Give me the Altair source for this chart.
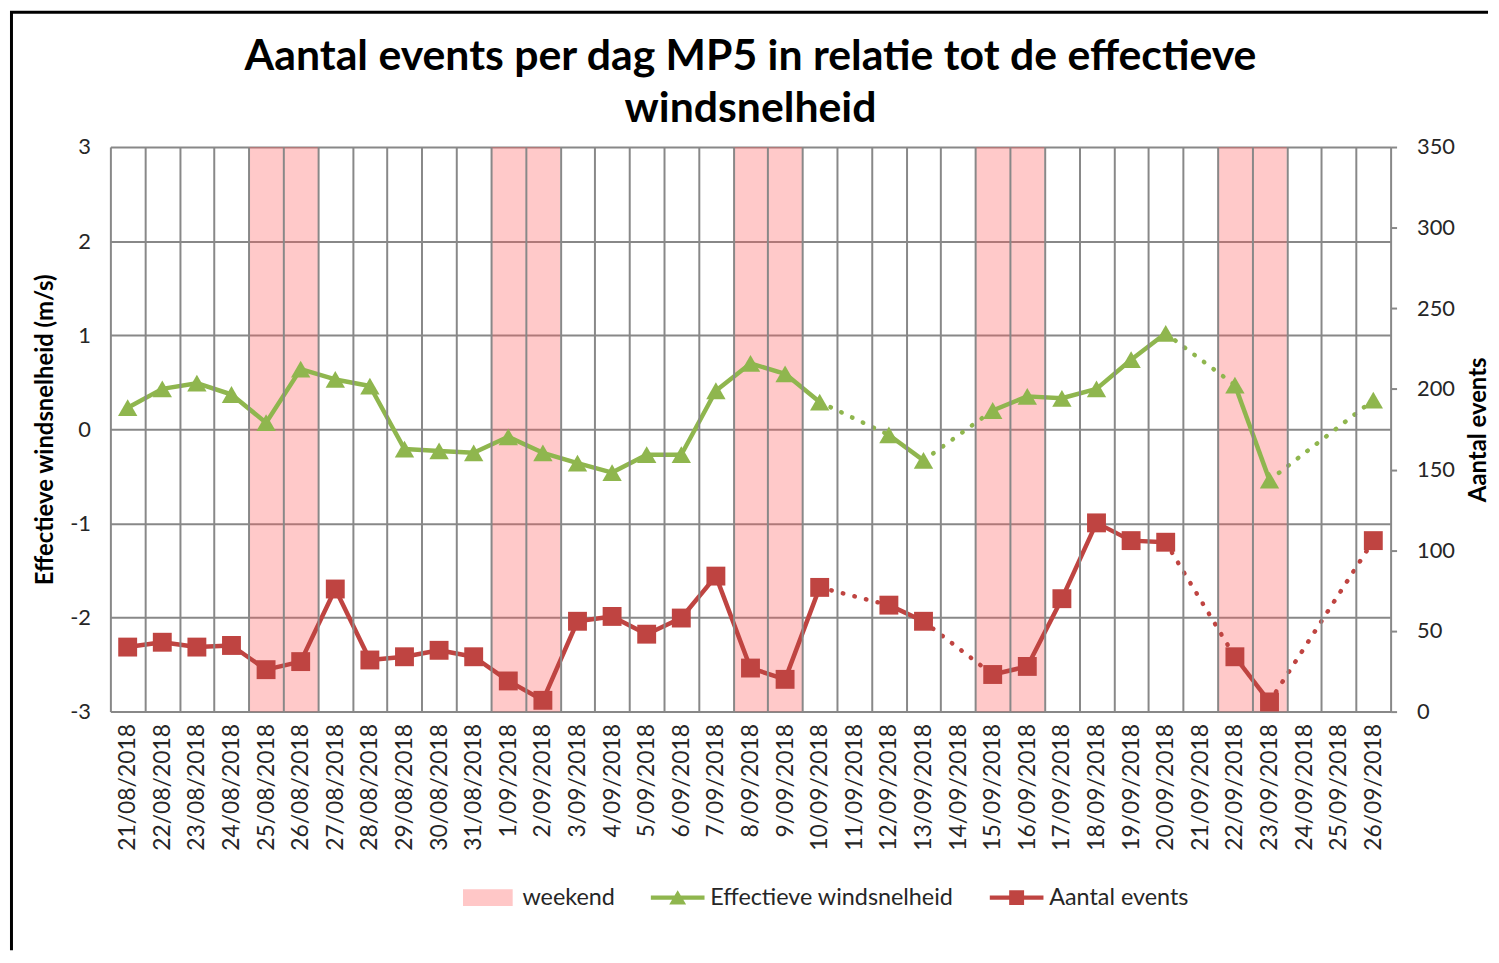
import altair as alt
import pandas as pd

# ---------------- data ----------------
days = [
    "21/08/2018", "22/08/2018", "23/08/2018", "24/08/2018", "25/08/2018",
    "26/08/2018", "27/08/2018", "28/08/2018", "29/08/2018", "30/08/2018",
    "31/08/2018", "1/09/2018", "2/09/2018", "3/09/2018", "4/09/2018",
    "5/09/2018", "6/09/2018", "7/09/2018", "8/09/2018", "9/09/2018",
    "10/09/2018", "11/09/2018", "12/09/2018", "13/09/2018", "14/09/2018",
    "15/09/2018", "16/09/2018", "17/09/2018", "18/09/2018", "19/09/2018",
    "20/09/2018", "21/09/2018", "22/09/2018", "23/09/2018", "24/09/2018",
    "25/09/2018", "26/09/2018",
]
weekend_days = [
    "25/08/2018", "26/08/2018", "1/09/2018", "2/09/2018", "8/09/2018",
    "9/09/2018", "15/09/2018", "16/09/2018", "22/09/2018", "23/09/2018",
]
wind = [
    0.23, 0.43, 0.49, 0.37, 0.07, 0.64, 0.53, 0.46, -0.21, -0.23,
    -0.25, -0.08, -0.25, -0.36, -0.46, -0.27, -0.27, 0.41, 0.70, 0.59,
    0.29, None, -0.06, -0.33, None, 0.20, 0.35, 0.33, 0.43, 0.74,
    1.02, None, 0.47, -0.54, None, None, 0.31,
]
events = [
    40, 43, 40, 41, 26, 31, 76, 32, 34, 38,
    34, 19, 7, 56, 59, 48, 58, 84, 27, 20,
    77, None, 66, 56, None, 23, 28, 70, 117, 106,
    105, None, 34, 6, None, None, 106,
]
series_names = ["weekend", "Effectieve windsnelheid", "Aantal events"]

# ---------------- styling ----------------
FONT = "Lato"
GREEN = "#8FB64E"
RED = "#BF4441"
PINK = "#FFC7C7"
GRID = "#888888"
TEXT = "#262626"
W, H = 1288, 568


def build_segments(values, field):
    """Split a series with gaps into solid runs and dotted bridges."""
    idx = [i for i, v in enumerate(values) if v is not None]
    runs, cur = [], [idx[0]]
    for a, b in zip(idx, idx[1:]):
        if b - a == 1:
            cur.append(b)
        else:
            runs.append(cur)
            cur = [b]
    runs.append(cur)
    solid, dotted = [], []
    for k, run in enumerate(runs):
        if len(run) > 1:
            for i in run:
                solid.append({"day": days[i], field: values[i], "seg": f"s{k}"})
        if k + 1 < len(runs):
            a, b = run[-1], runs[k + 1][0]
            for i in (a, b):
                dotted.append({"day": days[i], field: values[i], "seg": f"d{k}"})
    pts = [{"day": days[i], field: values[i]} for i in idx]
    return pd.DataFrame(solid), pd.DataFrame(dotted), pd.DataFrame(pts)


g_solid, g_dot, g_pts = build_segments(wind, "wind")
r_solid, r_dot, r_pts = build_segments(events, "events")
weekend_df = pd.DataFrame({"day": weekend_days})
legend_df = pd.DataFrame({"series": series_names})
frame_df = pd.DataFrame({"k": [0]})


def x_enc():
    return alt.X(
        "day:N",
        sort=days,
        scale=alt.Scale(domain=days, paddingInner=0, paddingOuter=0),
        axis=alt.Axis(
            title=None,
            labelAngle=270,
            labelFont=FONT,
            labelFontSize=23,
            labelColor=TEXT,
            labelPadding=12,
            ticks=False,
            domain=False,
            grid=True,
            tickBand="extent",
            gridColor=GRID,
            gridWidth=2,
        ),
    )


# weekend shading (semi transparent so the grid shows through)
weekend = alt.Chart(weekend_df).mark_rect(color="#FF5A5A", opacity=0.33).encode(
    x=x_enc(), y=alt.value(0), y2=alt.value(H)
)

y_wind = alt.Y(
    "wind:Q",
    scale=alt.Scale(domain=[-3, 3]),
    axis=alt.Axis(
        orient="left",
        values=[-3, -2, -1, 0, 1, 2, 3],
        labelExpr="'' + datum.value",
        title="Effectieve windsnelheid (m/s)",
        titleFont=FONT,
        titleFontSize=24,
        titleFontWeight="bold",
        titleColor="#000000",
        titlePadding=12,
        labelFont=FONT,
        labelFontSize=22,
        labelColor=TEXT,
        labelPadding=20,
        ticks=False,
        domain=False,
        grid=True,
        gridColor=GRID,
        gridWidth=2,
    ),
)
y_events = alt.Y(
    "events:Q",
    scale=alt.Scale(domain=[0, 350]),
    axis=alt.Axis(
        orient="right",
        values=[0, 50, 100, 150, 200, 250, 300, 350],
        title="Aantal events",
        titleAngle=270,
        titleBaseline="top",
        titleFont=FONT,
        titleFontSize=24,
        titleFontWeight="bold",
        titleColor="#000000",
        titlePadding=12,
        labelFont=FONT,
        labelFontSize=22,
        labelColor=TEXT,
        labelPadding=20,
        ticks=True,
        tickSize=6,
        tickColor=GRID,
        tickWidth=2,
        domain=False,
        grid=False,
    ),
)

green = alt.layer(
    alt.Chart(g_solid).mark_line(color=GREEN, strokeWidth=4.5, strokeJoin="round")
    .encode(x=x_enc(), y=y_wind, detail="seg:N"),
    alt.Chart(g_dot).mark_line(color=GREEN, strokeWidth=4.5, strokeCap="round", strokeDash=[0.5, 11.5])
    .encode(x=x_enc(), y=y_wind, detail="seg:N"),
    alt.Chart(g_pts).mark_point(shape="triangle-up", filled=True, size=380, color=GREEN, opacity=1)
    .encode(x=x_enc(), y=y_wind),
)

red = alt.layer(
    alt.Chart(r_solid).mark_line(color=RED, strokeWidth=4.5, strokeJoin="round")
    .encode(x=x_enc(), y=y_events, detail="seg:N"),
    alt.Chart(r_dot).mark_line(color=RED, strokeWidth=4.5, strokeCap="round", strokeDash=[0.5, 11.5])
    .encode(x=x_enc(), y=y_events, detail="seg:N"),
    alt.Chart(r_pts).mark_point(shape="square", filled=True, size=361, color=RED, opacity=1)
    .encode(x=x_enc(), y=y_events),
)

# legend symbols (unit = 10 px, symbols start at x = -1)
sym_rect = "M-1,-0.85H4V0.85H-1Z"
sym_tri = "M-1,-0.22H4.4V0.22H-1Z M1.7,-0.75L2.55,0.7L0.85,0.7Z"
sym_sq = "M-1,-0.22H4.4V0.22H-1Z M0.95,-0.75H2.45V0.75H0.95Z"

leg = alt.Legend(
    title=None,
    orient="none",
    legendX=353,
    legendY=743,
    direction="horizontal",
    symbolSize=400,
    symbolStrokeWidth=0,
    labelFont=FONT,
    labelFontSize=23.5,
    labelColor=TEXT,
    labelLimit=500,
    labelOffset=38,
    columnPadding=34,
)
legend_layer = alt.Chart(legend_df).mark_point(filled=True, opacity=1, clip=True).encode(
    x=alt.value(-300),
    y=alt.value(-300),
    color=alt.Color("series:N", scale=alt.Scale(domain=series_names, range=[PINK, GREEN, RED]), legend=leg),
    shape=alt.Shape("series:N", scale=alt.Scale(domain=series_names, range=[sym_rect, sym_tri, sym_sq]), legend=leg),
)

# outer chart frame (left and top edges, as in the exported chart picture)
frame_left = alt.Chart(frame_df).mark_rule(color="#000000", strokeWidth=3).encode(
    x=alt.value(-99.5), y=alt.value(-135.5), y2=alt.value(808)
)
frame_top = alt.Chart(frame_df).mark_rule(color="#000000", strokeWidth=3).encode(
    x=alt.value(-101), x2=alt.value(W + 98), y=alt.value(-135.5)
)

chart = (
    alt.layer(weekend, green, red, legend_layer, frame_left, frame_top)
    .resolve_scale(y="independent")
    .properties(
        width=W,
        height=H,
        title=alt.TitleParams(
            text=["Aantal events per dag MP5 in relatie tot de effectieve", "windsnelheid"],
            font=FONT,
            fontSize=43,
            fontWeight="bold",
            color="#000000",
            anchor="middle",
            lineHeight=53,
            offset=3,
            dy=124,
        ),
        padding={"left": 0, "top": 0, "right": 0, "bottom": 0},
    )
    .configure_view(stroke=GRID, strokeWidth=2)
    .configure(background="white")
)

chart.save("out.html", embed_options={"renderer": "svg", "actions": False})
